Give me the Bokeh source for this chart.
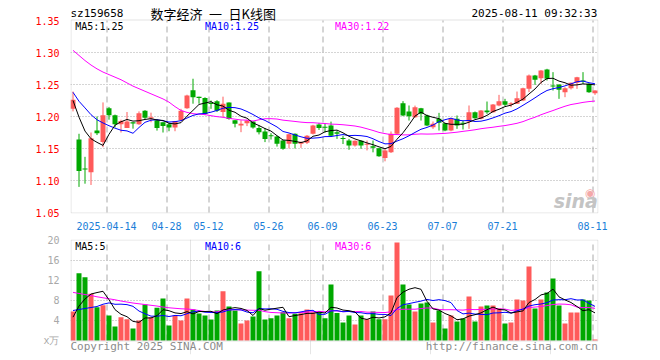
import numpy as np
from bokeh.plotting import figure
from bokeh.models import (ColumnDataSource, FixedTicker, NumeralTickFormatter,
                          Label, Range1d, BoxAnnotation)
from bokeh.layouts import column
from bokeh.embed import file_html
from bokeh.resources import INLINE

# ---------------- data ----------------
dates = ["04-03", "04-07", "04-08", "04-09", "04-10", "04-11", "04-14", "04-15", "04-16", "04-17",
         "04-18", "04-21", "04-22", "04-23", "04-24", "04-25", "04-28", "04-29", "04-30", "05-06",
         "05-07", "05-08", "05-09", "05-12", "05-13", "05-14", "05-15", "05-16", "05-19", "05-20",
         "05-21", "05-22", "05-23", "05-26", "05-27", "05-28", "05-29", "05-30", "06-03", "06-04",
         "06-05", "06-06", "06-09", "06-10", "06-11", "06-12", "06-13", "06-16", "06-17", "06-18",
         "06-19", "06-20", "06-23", "06-24", "06-25", "06-26", "06-27", "06-30", "07-01", "07-02",
         "07-03", "07-04", "07-07", "07-08", "07-09", "07-10", "07-11", "07-14", "07-15", "07-16",
         "07-17", "07-18", "07-21", "07-22", "07-23", "07-24", "07-25", "07-28", "07-29", "07-30",
         "07-31", "08-01", "08-04", "08-05", "08-06", "08-07", "08-08", "08-11"]

open_ = [1.212, 1.164, 1.118, 1.113, 1.178, 1.160, 1.213, 1.202, 1.188, 1.182,
         1.191, 1.188, 1.209, 1.197, 1.194, 1.191, 1.188, 1.183, 1.194, 1.213,
         1.241, 1.231, 1.229, 1.220, 1.224, 1.207, 1.222, 1.194, 1.186, 1.1896,
         1.192, 1.182, 1.1766, 1.1695, 1.1687, 1.1625, 1.1573, 1.1729, 1.1573, 1.159,
         1.173, 1.1875, 1.183, 1.186, 1.1755, 1.1656, 1.1625, 1.1547, 1.162, 1.1557,
         1.1537, 1.1505, 1.135, 1.1443, 1.1729, 1.2208, 1.2078, 1.199, 1.213, 1.2016,
         1.1833, 1.1964, 1.1896, 1.1781, 1.1964, 1.189, 1.1922, 1.2068, 1.1964, 1.2094,
         1.2068, 1.2172, 1.224, 1.2188, 1.2198, 1.225, 1.2432, 1.264, 1.2599, 1.2734,
         1.2474, 1.250, 1.238, 1.2443, 1.2526, 1.255, 1.251, 1.2365]
high = [1.239, 1.173, 1.137, 1.175, 1.200, 1.222, 1.215, 1.203, 1.195, 1.207,
        1.191, 1.208, 1.210, 1.206, 1.196, 1.191, 1.190, 1.193, 1.212, 1.234,
        1.259, 1.231, 1.230, 1.225, 1.2255, 1.231, 1.222, 1.1945, 1.194, 1.195,
        1.193, 1.186, 1.182, 1.174, 1.170, 1.163, 1.173, 1.1735, 1.161, 1.171,
        1.187, 1.190, 1.1885, 1.192, 1.178, 1.170, 1.165, 1.1625, 1.1625, 1.1625,
        1.1625, 1.151, 1.1495, 1.1766, 1.2146, 1.224, 1.2172, 1.217, 1.2135, 1.203,
        1.1922, 1.2057, 1.190, 1.198, 1.2016, 1.1937, 1.2172, 1.2078, 1.210, 1.2234,
        1.2195, 1.2338, 1.2276, 1.2224, 1.239, 1.245, 1.2656, 1.265, 1.2725, 1.2745,
        1.2693, 1.250, 1.2458, 1.253, 1.262, 1.2693, 1.252, 1.241]
low = [1.208, 1.090, 1.095, 1.093, 1.171, 1.152, 1.195, 1.183, 1.175, 1.182,
       1.181, 1.187, 1.196, 1.191, 1.178, 1.175, 1.177, 1.177, 1.193, 1.212,
       1.220, 1.220, 1.202, 1.212, 1.207, 1.199, 1.195, 1.183, 1.1755, 1.185,
       1.181, 1.172, 1.160, 1.164, 1.153, 1.148, 1.150, 1.150, 1.151, 1.157,
       1.172, 1.179, 1.175, 1.168, 1.165, 1.157, 1.148, 1.153, 1.1495, 1.147,
       1.144, 1.137, 1.130, 1.143, 1.172, 1.2005, 1.1937, 1.198, 1.1937, 1.185,
       1.1807, 1.1781, 1.177, 1.177, 1.1807, 1.1797, 1.1807, 1.1964, 1.1955, 1.2042,
       1.206, 1.216, 1.2161, 1.2146, 1.2198, 1.224, 1.238, 1.2495, 1.251, 1.2562,
       1.2406, 1.2276, 1.2302, 1.2422, 1.2432, 1.251, 1.237, 1.2338]
close = [1.226, 1.115, 1.117, 1.166, 1.174, 1.202, 1.202, 1.188, 1.193, 1.192,
         1.189, 1.205, 1.198, 1.199, 1.182, 1.185, 1.183, 1.193, 1.209, 1.233,
         1.230, 1.229, 1.204, 1.2195, 1.209, 1.220, 1.196, 1.1885, 1.1885, 1.1937,
         1.183, 1.1755, 1.165, 1.169, 1.1573, 1.1495, 1.1724, 1.1573, 1.160, 1.170,
         1.186, 1.182, 1.1825, 1.170, 1.173, 1.165, 1.1547, 1.162, 1.1547, 1.1573,
         1.151, 1.138, 1.147, 1.1729, 1.2135, 1.2016, 1.2005, 1.2146, 1.2042, 1.1859,
         1.1885, 1.1901, 1.1781, 1.1964, 1.1859, 1.1885, 1.2068, 1.1974, 1.2094, 1.2068,
         1.2188, 1.224, 1.2182, 1.2208, 1.2286, 1.2443, 1.264, 1.2573, 1.2719, 1.2588,
         1.2469, 1.2417, 1.2443, 1.2526, 1.2615, 1.2547, 1.238, 1.2406]
volume = [5.8, 13.47, 12.67, 9.33, 6.67, 7.07, 5.0, 2.8, 4.67, 4.27,
          2.4, 4.0, 7.2, 4.67, 6.53, 8.4, 3.0, 5.0, 4.0, 8.4,
          6.2, 5.4, 5.0, 4.2, 6.0, 9.87, 6.8, 6.0, 3.4, 4.0,
          4.8, 13.87, 4.2, 4.47, 5.0, 5.67, 4.47, 5.33, 5.47, 6.2,
          5.67, 5.67, 4.47, 11.2, 5.5, 3.6, 5.0, 3.2, 5.0, 4.27,
          5.8, 4.27, 4.27, 9.0, 19.6, 11.2, 7.2, 5.8, 7.4, 7.6,
          3.6, 6.0, 2.4, 5.0, 3.8, 4.4, 8.8, 3.8, 6.8, 7.0,
          7.0, 6.4, 3.4, 3.6, 8.2, 8.0, 14.8, 6.4, 8.2, 9.6,
          12.4, 7.0, 3.4, 5.6, 5.6, 8.2, 8.0, 0.2]

# closes / volumes of the 29 sessions before the window (estimated from the MA lines)
pre_close = [1.3546, 1.3566, 1.3761, 1.3539, 1.3516, 1.3216, 1.3075, 1.3132, 1.3422, 1.3391,
             1.3247, 1.3184, 1.3190, 1.3018, 1.3049, 1.3333, 1.4032, 1.3894, 1.3228, 1.2902,
             1.2546, 1.2206, 1.2720, 1.2539, 1.2516, 1.2450, 1.2260, 1.2260, 1.2020]
pre_volume = [20.0, 19.2, 15.33, 14.17, 13.07, 11.0, 8.8, 12.17, 10.27, 8.4,
              8.5, 11.7, 9.17, 11.03, 14.4, 7.5, 8.0, 7.0, 9.9, 9.2,
              11.47, 10.67, 7.33, 4.67, 2.51, 2.35, 5.6, 4.4, 5.2]

tick_idx = [6, 16, 23, 33, 42, 52, 62, 72, 87]
tick_labels = ["2025-04-14", "04-28", "05-12", "05-26", "06-09", "06-23", "07-07", "07-21", "08-11"]
price_ticks = [1.05, 1.10, 1.15, 1.20, 1.25, 1.30, 1.35]
vol_ticks = [0, 4, 8, 12, 16, 20]

symbol = "sz159658"
title_text = "数字经济\u2002一\u2002日K线图"
stamp = "2025-08-11 09:32:33"

# ---------------- helpers ----------------
def moving_avg(values, pre, n):
    full = np.array(pre + values, dtype=float)
    k = len(pre)
    return np.array([full[j - n + 1:j + 1].mean() for j in range(k, len(full))])

RED = "#ff5a5a"
GREEN = "#00a800"
MONO = "DejaVu Sans Mono"
GRIDC = "#aaaaaa"
BORDER = "#a0a0a0"

PX = 1.0 / 6.0          # one pixel in x data units
PY = 1.0 / 640.0        # one pixel in price units
PV = 1.0 / 5.0          # one pixel in volume units

n = len(close)
idx = np.arange(n)
xc = idx + 2.5 * PX
o = np.array(open_); c = np.array(close)
up = c >= o
colors = [RED if u else GREEN for u in up]
top = np.maximum(o, c)
bot = np.minimum(o, c)
top = np.maximum(top, bot + PY)

ma5 = moving_avg(close, pre_close, 5)
ma10 = moving_avg(close, pre_close, 10)
ma30 = moving_avg(close, pre_close, 30)
vma5 = moving_avg(volume, pre_volume, 5)
vma10 = moving_avg(volume, pre_volume, 10)
vma30 = moving_avg(volume, pre_volume, 30)

src = ColumnDataSource(dict(x=xc, top=top, bot=bot, high=high, low=low, color=colors,
                            vol=volume, ma5=ma5, ma10=ma10, ma30=ma30,
                            vma5=vma5, vma10=vma10, vma30=vma30))
tick_x = [t + 0.5 * PX for t in tick_idx]

def lab(p, x, y, text, color="black", size="10px", font=MONO, align="left",
        base="middle", style="normal"):
    p.add_layout(Label(x=x, y=y, text=text, text_color=color, text_font=font,
                       text_font_size=size, text_align=align, text_baseline=base,
                       text_font_style=style))

# ---------------- price panel ----------------
p_lo = 1.05 - PY
p_hi = 1.35 + 16 * PY
p1 = figure(frame_width=528, frame_height=209, x_range=Range1d(0, 88),
            y_range=Range1d(p_lo, p_hi), output_backend="svg", toolbar_location=None,
            min_border_left=70, min_border_right=10, min_border_top=4, min_border_bottom=19)
p1.outline_line_color = None
p1.xaxis.ticker = FixedTicker(ticks=tick_idx)
p1.xaxis.major_label_overrides = {t: l for t, l in zip(tick_idx, tick_labels)}
p1.yaxis.ticker = FixedTicker(ticks=price_ticks)
p1.yaxis.formatter = NumeralTickFormatter(format="0.00")
for ax in (p1.xaxis, p1.yaxis):
    ax.axis_line_color = None
    ax.major_tick_line_color = None
    ax.minor_tick_line_color = None
    ax.major_label_text_font = MONO
    ax.major_label_text_font_size = "10px"
p1.xaxis.major_label_text_color = "#1a7ed8"
p1.yaxis.major_label_text_color = "#ff0000"
p1.xaxis.major_label_standoff = 2
p1.yaxis.major_label_standoff = 5
p1.xgrid.visible = False
p1.ygrid.ticker = FixedTicker(ticks=price_ticks[1:-1])
p1.ygrid.grid_line_color = GRIDC
p1.ygrid.grid_line_dash = "1 2"

p1.segment(x0=tick_x, x1=tick_x, y0=[price_ticks[0]] * len(tick_x),
           y1=[price_ticks[-1]] * len(tick_x), color=GRIDC, line_dash="6 4", line_width=1)
p1.add_layout(BoxAnnotation(left=0.5 * PX, right=88 - 0.5 * PX,
                            bottom=price_ticks[0] - 0.5 * PY, top=price_ticks[-1] + 0.5 * PY,
                            fill_alpha=0, line_color=BORDER, line_width=1))

p1.segment(x0="x", x1="x", y0="low", y1="high", color="color", line_width=1, source=src)
p1.vbar(x="x", width=5 * PX, top="top", bottom="bot", fill_color="color",
        line_color=None, source=src)
p1.line("x", "ma30", color="#ff00ff", line_width=1, source=src)
p1.line("x", "ma10", color="#0000ff", line_width=1, source=src)
p1.line("x", "ma5", color="#000000", line_width=1, source=src)

lab(p1, 0.0, 1.35 + 7 * PY, symbol, size="11px")
lab(p1, 23.8, 1.35 + 7 * PY, title_text, font="Noto Sans CJK SC", size="13px", align="center")
lab(p1, 87.8, 1.35 + 7 * PY, stamp, size="11px", align="right")
lab(p1, 0.8, 1.35 - 6 * PY, f"MA5:{ma5[-1]:.2f}", color="black")
lab(p1, 22.4, 1.35 - 6 * PY, f"MA10:{ma10[-1]:.2f}", color="#0000ff")
lab(p1, 44.1, 1.35 - 6 * PY, f"MA30:{ma30[-1]:.2f}", color="#ff00ff")
lab(p1, 86.6, 1.35 - 172 * PY, "◉", color="#f4a8a8", font="DejaVu Sans", size="12px", align="center")
lab(p1, 87.9, 1.35 - 191 * PY, "sina", color="#c4c4c4", font="DejaVu Sans", size="19px",
    align="right", base="bottom", style="bold italic")

# ---------------- volume panel ----------------
v_lo = -14 * PV
v_hi = 20 + PV
p2 = figure(frame_width=528, frame_height=115, x_range=p1.x_range,
            y_range=Range1d(v_lo, v_hi), output_backend="svg", toolbar_location=None,
            x_axis_location=None,
            min_border_left=70, min_border_right=10, min_border_top=7, min_border_bottom=4)
p2.outline_line_color = None
p2.yaxis.ticker = FixedTicker(ticks=vol_ticks)
p2.yaxis.major_label_overrides = {0: "x万"}
p2.yaxis.axis_line_color = None
p2.yaxis.major_tick_line_color = None
p2.yaxis.minor_tick_line_color = None
p2.yaxis.major_label_text_font = MONO
p2.yaxis.major_label_text_font_size = "10px"
p2.yaxis.major_label_text_color = "#a8a8a8"
p2.yaxis.major_label_standoff = 5
p2.ygrid.ticker = FixedTicker(ticks=vol_ticks[1:-1])
p2.ygrid.grid_line_color = GRIDC
p2.ygrid.grid_line_dash = "1 2"

p2.segment(x0=tick_x, x1=tick_x, y0=[vol_ticks[0]] * len(tick_x),
           y1=[vol_ticks[-1]] * len(tick_x), color=GRIDC, line_dash="6 4", line_width=1)
p2.add_layout(BoxAnnotation(left=0.5 * PX, right=88 - 0.5 * PX,
                            bottom=vol_ticks[0] - 0.5 * PV, top=vol_ticks[-1] + 0.5 * PV,
                            fill_alpha=0, line_color=BORDER, line_width=1))

p2.vbar(x="x", width=5 * PX, top="vol", bottom=0, fill_color="color",
        line_color=None, source=src)
p2.line("x", "vma30", color="#ff00ff", line_width=1, source=src)
p2.line("x", "vma10", color="#0000ff", line_width=1, source=src)
p2.line("x", "vma5", color="#000000", line_width=1, source=src)

lab(p2, 0.8, 20 - 6 * PV, f"MA5:{int(vma5[-1])}", color="black")
lab(p2, 22.4, 20 - 6 * PV, f"MA10:{int(vma10[-1])}", color="#0000ff")
lab(p2, 44.1, 20 - 6 * PV, f"MA30:{int(vma30[-1])}", color="#ff00ff")
lab(p2, 0.0, -6 * PV, "Copyright 2025 SINA.COM", color="#8c8c8c", size="11px")
lab(p2, 87.9, -6 * PV, "http://finance.sina.com.cn", color="#8c8c8c", size="11px", align="right")

layout = column(p1, p2, spacing=0)
open("out.html", "w").write(file_html(layout, INLINE))
